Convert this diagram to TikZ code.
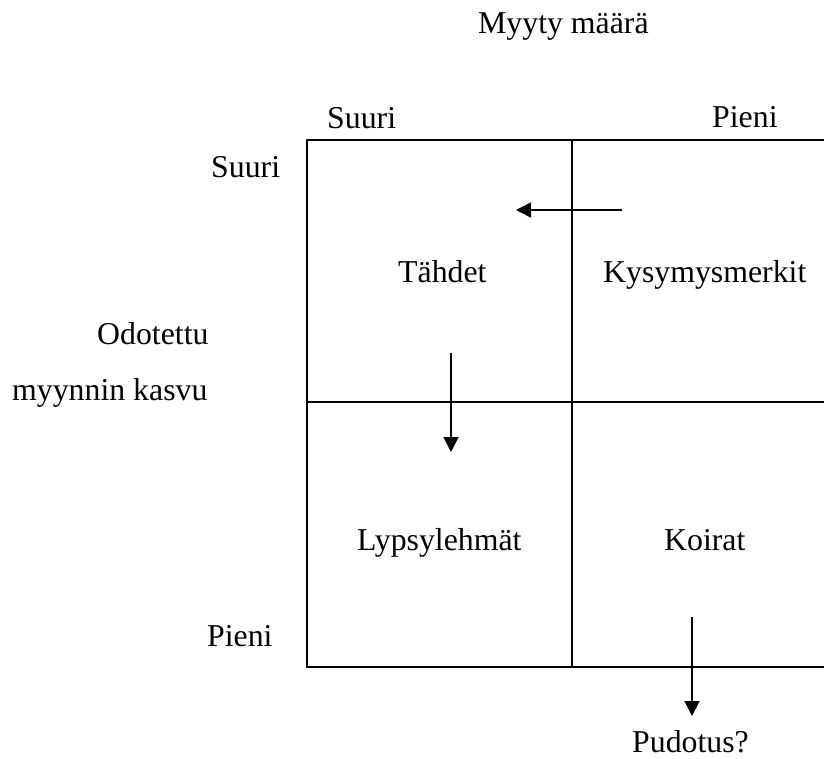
\documentclass[tikz,border=0pt]{standalone}
\usepackage{fontspec}
\setmainfont{Liberation Serif}
\usetikzlibrary{arrows.meta}
\begin{document}
\begin{tikzpicture}[x=1pt,y=-1pt,
  lbl/.style={anchor=base west, inner sep=0pt, font=\fontsize{31.8}{36}\selectfont},
  gridline/.style={line width=1.6pt},
  flow/.style={line width=1.6pt, -{Triangle[length=15pt,width=15pt]}}]
\useasboundingbox (0,0) rectangle (824,758);
% grid
\draw[gridline] (826,140) -- (307,140) -- (307,667) -- (826,667);
\draw[gridline] (572,140) -- (572,667);
\draw[gridline] (307,402) -- (826,402);
% labels
\node[lbl] (title) at (478,33) {Myyty määrä};
\node[lbl] (colbig) at (327,128) {Suuri};
\node[lbl] (colsmall) at (712,127) {Pieni};
\node[lbl] (rowbig) at (211,177) {Suuri};
\node[lbl] (ylab1) at (97,344) {Odotettu};
\node[lbl] (ylab2) at (12,400) {myynnin kasvu};
\node[lbl] (rowsmall) at (207,646) {Pieni};
\node[lbl] (stars) at (398,282) {Tähdet};
\node[lbl] (question) at (603,282) {Kysymysmerkit};
\node[lbl] (cows) at (357,550) {Lypsylehmät};
\node[lbl] (dogs) at (664,550) {Koirat};
\node[lbl] (drop) at (632,752) {Pudotus?};
% arrows
\coordinate (a1s) at (622,210);
\coordinate (a1e) at (516,210);
\coordinate (a2s) at (451,353);
\coordinate (a2e) at (451,452);
\coordinate (a3s) at (692,617);
\coordinate (a3e) at (692,716);
\draw[flow] (a1s) -- (a1e);
\draw[flow] (a2s) -- (a2e);
\draw[flow] (a3s) -- (a3e);
\end{tikzpicture}
\end{document}
